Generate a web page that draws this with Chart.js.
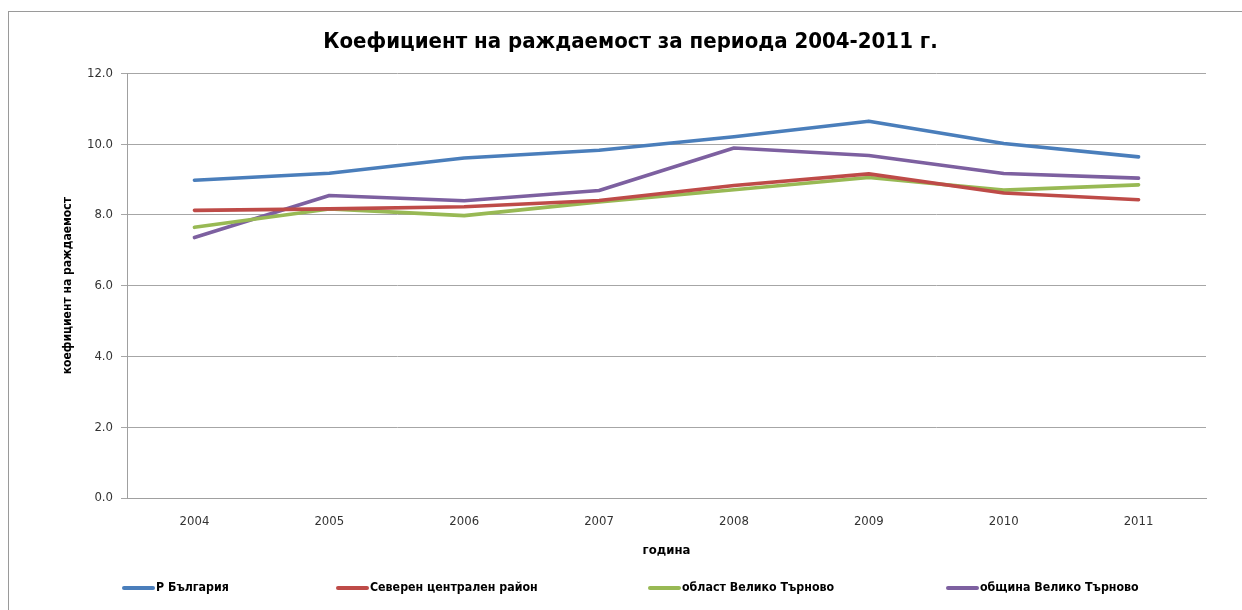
<!DOCTYPE html>
<html>
<head>
<meta charset="utf-8">
<script src="https://cdn.jsdelivr.net/npm/chart.js@4"></script>
<style>
html,body{margin:0;padding:0;background:#fff;}
#wrap{width:1242px;height:610px;position:relative;}
</style>
</head>
<body>
<div id="wrap"><canvas id="c" width="1242" height="610"></canvas></div>
<script>
const years = ['2004','2005','2006','2007','2008','2009','2010','2011'];
const bulgaria = [8.98, 9.18, 9.61, 9.83, 10.21, 10.65, 10.02, 9.64];
const northCentral = [8.13, 8.17, 8.23, 8.41, 8.83, 9.16, 8.62, 8.43];
const vtProvince = [7.65, 8.17, 7.98, 8.37, 8.71, 9.06, 8.70, 8.85];
const vtMunicipality = [7.36, 8.55, 8.40, 8.69, 9.89, 9.68, 9.17, 9.04];
const seriesNames = ['Р България', 'Северен централен район', 'област Велико Търново', 'община Велико Търново'];
const yTicks = [0, 2, 4, 6, 8, 10, 12];

const FONT = '"Liberation Sans Narrow", "DejaVu Sans Condensed", "Liberation Sans", sans-serif';
const colors = ['#4a7ebb', '#be4b48', '#98b954', '#7d60a0'];
const legendX = [122, 336, 648, 946];

const frame = {
  id: 'frame',
  beforeDraw(chart) {
    const ctx = chart.ctx;
    ctx.save();
    ctx.strokeStyle = '#9a9a9a';
    ctx.lineWidth = 1;
    ctx.strokeRect(8.5, 11.5, 1400, 800);
    ctx.restore();
  },
  afterDraw(chart) {
    const ctx = chart.ctx;
    ctx.save();
    ctx.font = 'bold 12.3px ' + FONT;
    ctx.textBaseline = 'middle';
    chart.data.datasets.forEach((ds, i) => {
      const x = legendX[i], y = 588;
      ctx.strokeStyle = ds.borderColor;
      ctx.lineWidth = 4;
      ctx.lineCap = 'round';
      ctx.beginPath();
      ctx.moveTo(x + 2, y);
      ctx.lineTo(x + 31, y);
      ctx.stroke();
      ctx.fillStyle = '#000';
      ctx.fillText(ds.label, x + 34, y);
    });
    ctx.restore();
  }
};

const mk = (label, data, i) => ({
  label, data,
  borderColor: colors[i], backgroundColor: colors[i],
  borderWidth: 3.6, pointRadius: 0, pointHoverRadius: 0,
  tension: 0, fill: false, borderCapStyle: 'round', borderJoinStyle: 'round'
});

new Chart(document.getElementById('c'), {
  type: 'line',
  data: {
    labels: years,
    datasets: [
      mk(seriesNames[0], bulgaria, 0),
      mk(seriesNames[1], northCentral, 1),
      mk(seriesNames[2], vtProvince, 2),
      mk(seriesNames[3], vtMunicipality, 3)
    ]
  },
  plugins: [frame],
  options: {
    responsive: false,
    animation: false,
    events: [],
    layout: { padding: { left: 55, right: 36, top: 0, bottom: 42 } },
    plugins: {
      legend: { display: false },
      tooltip: { enabled: false },
      title: {
        display: true,
        text: 'Коефициент на раждаемост за периода 2004-2011 г.',
        color: '#000',
        font: { family: FONT, size: 22, weight: 'bold', lineHeight: 1.2 },
        padding: { top: 29, bottom: 18 }
      }
    },
    scales: {
      x: {
        offset: true,
        grid: { display: false, drawTicks: false },
        border: { display: true, color: '#a0a0a0', width: 1 },
        ticks: { color: '#333', font: { family: FONT, size: 13 }, padding: 16, maxRotation: 0 },
        title: {
          display: true, text: 'година', color: '#000',
          font: { family: FONT, size: 13, weight: 'bold' }, padding: { top: 2, bottom: 10 }
        },
        afterFit(s) { s.height = 70; }
      },
      y: {
        min: 0, max: 12,
        afterBuildTicks(s) { s.ticks = yTicks.map(v => ({ value: v })); },
        grid: { color: '#a6a6a6', lineWidth: 1, tickLength: 6, drawTicks: true },
        border: { display: true, color: '#a0a0a0', width: 1 },
        ticks: { color: '#333', font: { family: FONT, size: 13 }, padding: 8,
                 callback: v => Number(v).toFixed(1) },
        title: {
          display: true, text: 'коефициент на раждаемост', color: '#000',
          font: { family: FONT, size: 12, weight: 'bold' }, padding: { top: 6, bottom: 0 }
        },
        afterFit(s) { s.width = 127 - 55; }
      }
    }
  }
});
</script>
</body>
</html>
